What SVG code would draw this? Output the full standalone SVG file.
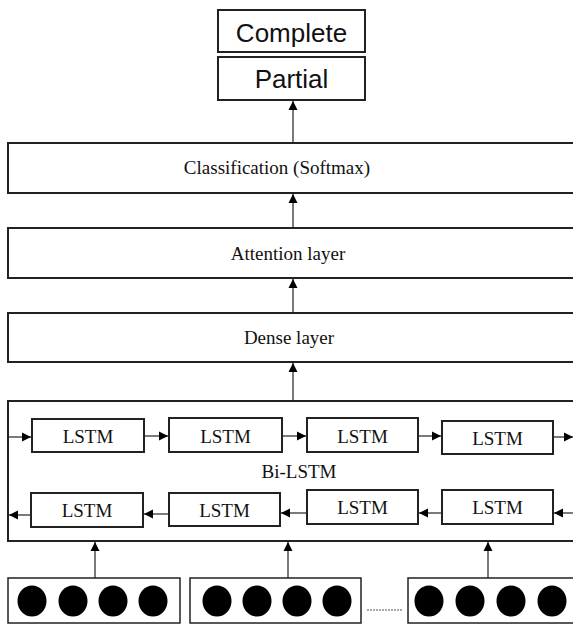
<svg xmlns="http://www.w3.org/2000/svg" width="573" height="624" viewBox="0 0 573 624">
<style>
.big{fill:#fff;stroke:#222;stroke-width:2}
.box{fill:#fff;stroke:#222;stroke-width:2}
.in{fill:#fff;stroke:#222;stroke-width:1.5}
.t{font-family:"Liberation Serif","Times New Roman",serif;font-size:19px;fill:#111;text-anchor:middle}
.s{font-family:"Liberation Sans",Arial,sans-serif;font-size:26px;fill:#111;text-anchor:middle}
.c{stroke:#222;stroke-width:1.2;fill:none;marker-end:url(#ah)}
.dot{fill:#000}
</style>
<defs>
<marker id="ah" markerUnits="userSpaceOnUse" markerWidth="10" markerHeight="10" refX="9" refY="5" orient="auto">
<path d="M0,0.5 L9,5 L0,9.5 Z" fill="#000"/>
</marker>
</defs>
<rect width="573" height="624" fill="#fff"/>
<g id="complete"><rect class="box" x="218" y="10" width="147" height="42"/><text class="s" x="291.5" y="42">Complete</text></g>
<g id="partial"><rect class="box" x="218" y="57" width="147" height="43"/><text class="s" x="291.5" y="88">Partial</text></g>
<g id="classification"><rect class="big" x="8" y="143" width="580" height="50"/><text class="t" x="277" y="174">Classification (Softmax)</text></g>
<g id="attention"><rect class="big" x="8" y="228" width="580" height="50"/><text class="t" x="288" y="260">Attention layer</text></g>
<g id="dense"><rect class="big" x="8" y="313" width="580" height="49"/><text class="t" x="289" y="344">Dense layer</text></g>
<g id="bilstm"><rect class="big" x="8" y="401" width="580" height="140"/><text class="t" x="299" y="478">Bi-LSTM</text></g>
<g id="f1"><rect class="box" x="32" y="419" width="112" height="33"/><text class="t" x="88" y="443">LSTM</text></g>
<g id="f2"><rect class="box" x="169" y="418" width="113" height="34"/><text class="t" x="225.5" y="443">LSTM</text></g>
<g id="f3"><rect class="box" x="307" y="418" width="111" height="34"/><text class="t" x="362.5" y="443">LSTM</text></g>
<g id="f4"><rect class="box" x="442" y="421" width="111" height="33"/><text class="t" x="497.5" y="445">LSTM</text></g>
<g id="b1"><rect class="box" x="31" y="493" width="112" height="34"/><text class="t" x="87" y="517">LSTM</text></g>
<g id="b2"><rect class="box" x="169" y="493" width="111" height="33"/><text class="t" x="224.5" y="517">LSTM</text></g>
<g id="b3"><rect class="box" x="307" y="490" width="111" height="34"/><text class="t" x="362.5" y="514">LSTM</text></g>
<g id="b4"><rect class="box" x="442" y="490" width="111" height="34"/><text class="t" x="497.5" y="514">LSTM</text></g>
<g id="input1"><rect class="in" x="8" y="578" width="172" height="45"/>
<ellipse class="dot" cx="32" cy="601" rx="14.5" ry="15.5"/><ellipse class="dot" cx="73" cy="601" rx="14.5" ry="15.5"/><ellipse class="dot" cx="113" cy="601" rx="14.5" ry="15.5"/><ellipse class="dot" cx="153" cy="601" rx="14.5" ry="15.5"/></g>
<g id="input2"><rect class="in" x="190" y="578" width="171" height="45"/>
<ellipse class="dot" cx="217" cy="601" rx="14.5" ry="15.5"/><ellipse class="dot" cx="257" cy="601" rx="14.5" ry="15.5"/><ellipse class="dot" cx="297" cy="601" rx="14.5" ry="15.5"/><ellipse class="dot" cx="337" cy="601" rx="14.5" ry="15.5"/></g>
<g id="input3"><rect class="in" x="408" y="578" width="180" height="45"/>
<ellipse class="dot" cx="429" cy="601" rx="14.5" ry="15.5"/><ellipse class="dot" cx="470" cy="601" rx="14.5" ry="15.5"/><ellipse class="dot" cx="511" cy="601" rx="14.5" ry="15.5"/><ellipse class="dot" cx="552" cy="601" rx="14.5" ry="15.5"/></g>
<g id="connectors">
<line class="c" x1="293" y1="143" x2="293" y2="101"/>
<line class="c" x1="293" y1="228" x2="293" y2="194"/>
<line class="c" x1="293" y1="313" x2="293" y2="279"/>
<line class="c" x1="293" y1="401" x2="293" y2="363"/>
<line class="c" x1="8" y1="437" x2="31" y2="437"/>
<line class="c" x1="144" y1="436" x2="168" y2="436"/>
<line class="c" x1="282" y1="436" x2="306" y2="436"/>
<line class="c" x1="418" y1="436" x2="441" y2="436"/>
<line class="c" x1="553" y1="437" x2="573" y2="437"/>
<line class="c" x1="31" y1="515" x2="9" y2="515"/>
<line class="c" x1="169" y1="514" x2="144" y2="514"/>
<line class="c" x1="307" y1="513" x2="281" y2="513"/>
<line class="c" x1="442" y1="513" x2="419" y2="513"/>
<line class="c" x1="575" y1="513" x2="554" y2="513"/>
<line class="c" x1="95" y1="578" x2="95" y2="542"/>
<line class="c" x1="288" y1="578" x2="288" y2="542"/>
<line class="c" x1="488" y1="578" x2="488" y2="542"/>
<line x1="367" y1="610" x2="402" y2="610" stroke="#555" stroke-width="1" stroke-dasharray="2,1"/>
</g>
</svg>
